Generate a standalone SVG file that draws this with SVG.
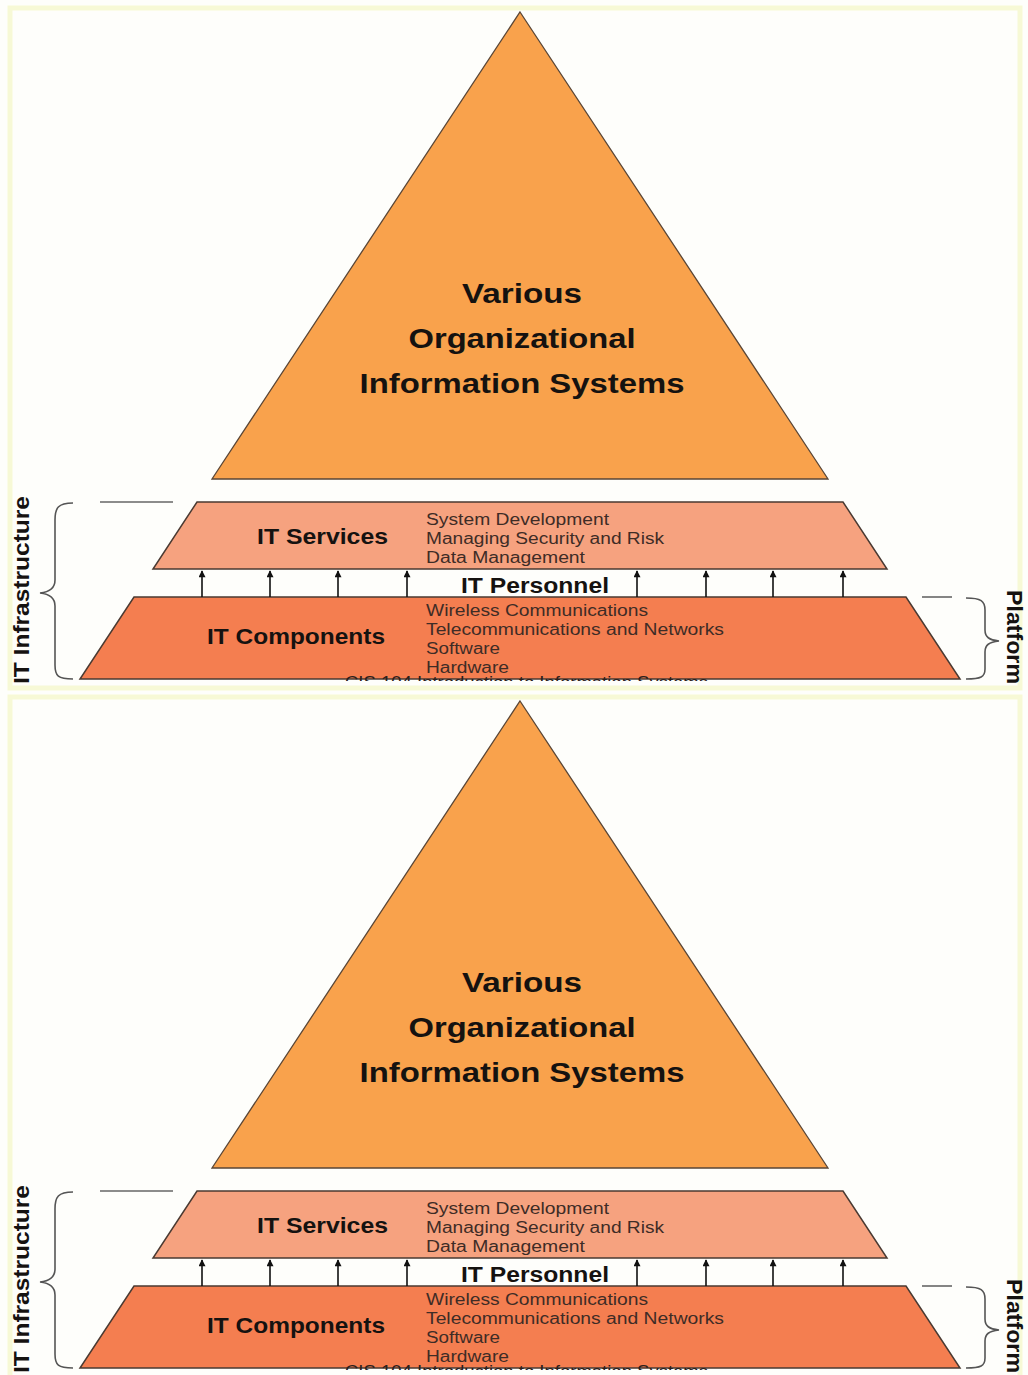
<svg xmlns="http://www.w3.org/2000/svg" width="1028" height="1375" viewBox="0 0 1028 1375">
<defs>
<style>
.bg{fill:#fefefb}
.frame{fill:none;stroke:#f7f9d6;stroke-width:5}
.tri{fill:#f9a24c;stroke:#5a4636;stroke-width:1.3}
.svc{fill:#f6a27f;stroke:#4a3a32;stroke-width:1.5}
.cmp{fill:#f47e50;stroke:#4a3a32;stroke-width:1.5}
.big{font-family:"Liberation Sans",Arial,sans-serif;font-weight:bold;font-size:28px;fill:#151210;text-anchor:middle}
.lbl{font-family:"Liberation Sans",Arial,sans-serif;font-weight:bold;font-size:22px;fill:#151210}
.sm{font-family:"Liberation Sans",Arial,sans-serif;font-size:16px;fill:#3e2c26}
.cis{font-family:"Liberation Sans",Arial,sans-serif;font-size:16px;fill:#2a201c}
.brace{fill:none;stroke:#555;stroke-width:1.6}
.dash{stroke:#666;stroke-width:1.6}
.arr{stroke:#111;stroke-width:1.6}
</style>
<marker id="ah" viewBox="0 0 10 10" refX="9" refY="5" markerWidth="9" markerHeight="7" markerUnits="userSpaceOnUse" orient="auto">
<path d="M0,0 L10,5 L0,10 Z" fill="#111"/>
</marker>
<clipPath id="cisclip"><rect x="0" y="600" width="1028" height="81"/></clipPath>
</defs>
<rect class="bg" x="0" y="0" width="1028" height="1375"/>
<rect class="frame" x="10" y="8" width="1010" height="680"/>
<rect class="frame" x="10" y="697" width="1010" height="690"/>

<g id="copy1">
  <g id="c1-systems">
    <polygon class="tri" points="520,12 828,479 212,479"/>
    <text class="big" x="522" y="303" textLength="120" lengthAdjust="spacingAndGlyphs">Various</text>
    <text class="big" x="522" y="348" textLength="227" lengthAdjust="spacingAndGlyphs">Organizational</text>
    <text class="big" x="522" y="393" textLength="325" lengthAdjust="spacingAndGlyphs">Information Systems</text>
  </g>
  <g id="c1-services">
    <polygon class="svc" points="197,502 843,502 887,569 153,569"/>
    <text class="lbl" x="257" y="544" textLength="131" lengthAdjust="spacingAndGlyphs">IT Services</text>
    <text class="sm" x="426" y="525" textLength="183" lengthAdjust="spacingAndGlyphs">System Development</text>
    <text class="sm" x="426" y="544" textLength="238" lengthAdjust="spacingAndGlyphs">Managing Security and Risk</text>
    <text class="sm" x="426" y="563" textLength="159" lengthAdjust="spacingAndGlyphs">Data Management</text>
  </g>
  <g id="c1-components">
    <polygon class="cmp" points="134,597 906,597 960,679 80,679"/>
    <text class="lbl" x="207" y="644" textLength="178" lengthAdjust="spacingAndGlyphs">IT Components</text>
    <text class="sm" x="426" y="616" textLength="222" lengthAdjust="spacingAndGlyphs">Wireless Communications</text>
    <text class="sm" x="426" y="635" textLength="298" lengthAdjust="spacingAndGlyphs">Telecommunications and Networks</text>
    <text class="sm" x="426" y="654" textLength="74" lengthAdjust="spacingAndGlyphs">Software</text>
    <text class="sm" x="426" y="673" textLength="83" lengthAdjust="spacingAndGlyphs">Hardware</text>
    <text class="cis" x="345" y="688" textLength="363" lengthAdjust="spacingAndGlyphs" clip-path="url(#cisclip)">CIS 104 Introduction to Information Systems</text>
  </g>
  <g id="c1-personnel">
    <text class="lbl" x="461" y="593" textLength="148" lengthAdjust="spacingAndGlyphs">IT Personnel</text>
  </g>
  <g id="c1-infrastructure">
    <path class="brace" d="M73,503 C58,503 55,508 55,520 L55,580 C55,588 50,592 40,593 C50,594 55,598 55,606 L55,665 C55,676 58,679 73,679"/>
    <line class="dash" x1="100" y1="502" x2="173" y2="502"/>
    <text class="lbl" transform="translate(29,684) rotate(-90)" x="0" y="0" textLength="188" lengthAdjust="spacingAndGlyphs">IT Infrastructure</text>
  </g>
  <g id="c1-platform">
    <line class="dash" x1="922" y1="597" x2="952" y2="597"/>
    <path class="brace" d="M966,598 C981,598 985,601 985,610 L985,630 C985,637 989,640 999,641 C989,642 985,645 985,652 L985,669 C985,677 981,679 966,679"/>
    <text class="lbl" transform="translate(1007,590) rotate(90)" x="0" y="0" textLength="94" lengthAdjust="spacingAndGlyphs">Platform</text>
  </g>
  <g id="c1-connectors">
    <line class="arr" x1="202" y1="597" x2="202" y2="571" marker-end="url(#ah)"/>
    <line class="arr" x1="270" y1="597" x2="270" y2="571" marker-end="url(#ah)"/>
    <line class="arr" x1="338" y1="597" x2="338" y2="571" marker-end="url(#ah)"/>
    <line class="arr" x1="407" y1="597" x2="407" y2="571" marker-end="url(#ah)"/>
    <line class="arr" x1="637" y1="597" x2="637" y2="571" marker-end="url(#ah)"/>
    <line class="arr" x1="706" y1="597" x2="706" y2="571" marker-end="url(#ah)"/>
    <line class="arr" x1="773" y1="597" x2="773" y2="571" marker-end="url(#ah)"/>
    <line class="arr" x1="843" y1="597" x2="843" y2="571" marker-end="url(#ah)"/>
  </g>
</g>

<g id="copy2" transform="translate(0,689)">
  <g id="c2-systems">
    <polygon class="tri" points="520,12 828,479 212,479"/>
    <text class="big" x="522" y="303" textLength="120" lengthAdjust="spacingAndGlyphs">Various</text>
    <text class="big" x="522" y="348" textLength="227" lengthAdjust="spacingAndGlyphs">Organizational</text>
    <text class="big" x="522" y="393" textLength="325" lengthAdjust="spacingAndGlyphs">Information Systems</text>
  </g>
  <g id="c2-services">
    <polygon class="svc" points="197,502 843,502 887,569 153,569"/>
    <text class="lbl" x="257" y="544" textLength="131" lengthAdjust="spacingAndGlyphs">IT Services</text>
    <text class="sm" x="426" y="525" textLength="183" lengthAdjust="spacingAndGlyphs">System Development</text>
    <text class="sm" x="426" y="544" textLength="238" lengthAdjust="spacingAndGlyphs">Managing Security and Risk</text>
    <text class="sm" x="426" y="563" textLength="159" lengthAdjust="spacingAndGlyphs">Data Management</text>
  </g>
  <g id="c2-components">
    <polygon class="cmp" points="134,597 906,597 960,679 80,679"/>
    <text class="lbl" x="207" y="644" textLength="178" lengthAdjust="spacingAndGlyphs">IT Components</text>
    <text class="sm" x="426" y="616" textLength="222" lengthAdjust="spacingAndGlyphs">Wireless Communications</text>
    <text class="sm" x="426" y="635" textLength="298" lengthAdjust="spacingAndGlyphs">Telecommunications and Networks</text>
    <text class="sm" x="426" y="654" textLength="74" lengthAdjust="spacingAndGlyphs">Software</text>
    <text class="sm" x="426" y="673" textLength="83" lengthAdjust="spacingAndGlyphs">Hardware</text>
    <text class="cis" x="345" y="688" textLength="363" lengthAdjust="spacingAndGlyphs" clip-path="url(#cisclip)">CIS 104 Introduction to Information Systems</text>
  </g>
  <g id="c2-personnel">
    <text class="lbl" x="461" y="593" textLength="148" lengthAdjust="spacingAndGlyphs">IT Personnel</text>
  </g>
  <g id="c2-infrastructure">
    <path class="brace" d="M73,503 C58,503 55,508 55,520 L55,580 C55,588 50,592 40,593 C50,594 55,598 55,606 L55,665 C55,676 58,679 73,679"/>
    <line class="dash" x1="100" y1="502" x2="173" y2="502"/>
    <text class="lbl" transform="translate(29,684) rotate(-90)" x="0" y="0" textLength="188" lengthAdjust="spacingAndGlyphs">IT Infrastructure</text>
  </g>
  <g id="c2-platform">
    <line class="dash" x1="922" y1="597" x2="952" y2="597"/>
    <path class="brace" d="M966,598 C981,598 985,601 985,610 L985,630 C985,637 989,640 999,641 C989,642 985,645 985,652 L985,669 C985,677 981,679 966,679"/>
    <text class="lbl" transform="translate(1007,590) rotate(90)" x="0" y="0" textLength="94" lengthAdjust="spacingAndGlyphs">Platform</text>
  </g>
  <g id="c2-connectors">
    <line class="arr" x1="202" y1="597" x2="202" y2="571" marker-end="url(#ah)"/>
    <line class="arr" x1="270" y1="597" x2="270" y2="571" marker-end="url(#ah)"/>
    <line class="arr" x1="338" y1="597" x2="338" y2="571" marker-end="url(#ah)"/>
    <line class="arr" x1="407" y1="597" x2="407" y2="571" marker-end="url(#ah)"/>
    <line class="arr" x1="637" y1="597" x2="637" y2="571" marker-end="url(#ah)"/>
    <line class="arr" x1="706" y1="597" x2="706" y2="571" marker-end="url(#ah)"/>
    <line class="arr" x1="773" y1="597" x2="773" y2="571" marker-end="url(#ah)"/>
    <line class="arr" x1="843" y1="597" x2="843" y2="571" marker-end="url(#ah)"/>
  </g>
</g>
</svg>
